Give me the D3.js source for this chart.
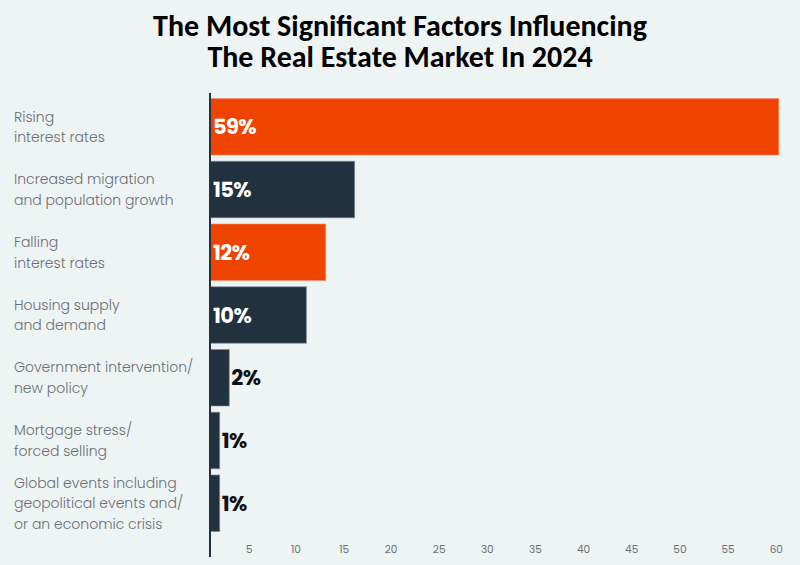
<!DOCTYPE html>
<html><head><meta charset="utf-8">
<script src="https://cdn.jsdelivr.net/npm/d3@7"></script>
<style>
html,body{margin:0;padding:0;background:#eef3f4;}
svg{display:block;}
</style></head>
<body>
<svg id="chart" width="800" height="565"></svg>
<script>
const titleLines = ["The Most Significant Factors Influencing", "The Real Estate Market In 2024"];
const categories = [
  ["Rising", "interest rates"],
  ["Increased migration", "and population growth"],
  ["Falling", "interest rates"],
  ["Housing supply", "and demand"],
  ["Government intervention/", "new policy"],
  ["Mortgage stress/", "forced selling"],
  ["Global events including", "geopolitical events and/", "or an economic crisis"]
];
const values = [59, 15, 12, 10, 2, 1, 1];
const highlight = [true, false, true, false, false, false, false];
const tickValues = [5, 10, 15, 20, 25, 30, 35, 40, 45, 50, 55, 60];

const svg = d3.select("#chart");
const W = 800, H = 565;
svg.append("rect").attr("width", W).attr("height", H).attr("fill", "#eef3f4");

const x = d3.scaleLinear().domain([0, 60]).range([210, 788.4]);
const y = d3.scaleBand().domain(d3.range(values.length)).range([95.4, 534.6]).paddingInner(0.1).paddingOuter(0.05);

// title (one text element, two lines)
svg.append("text")
  .attr("text-anchor", "middle")
  .attr("font-family", "Carlito, 'Liberation Sans Narrow', 'Open Sans', sans-serif")
  .attr("font-weight", "bold").attr("font-size", 30).attr("fill", "#000")
  .selectAll("tspan").data(titleLines).join("tspan")
  .attr("x", 400).attr("y", (d, i) => 36 + i * 31)
  .text(d => d);

// bars
svg.append("g").selectAll("rect").data(values).join("rect")
  .attr("x", x(0)).attr("y", (d, i) => y(i))
  .attr("width", d => x(d) - x(0)).attr("height", y.bandwidth())
  .attr("fill", (d, i) => highlight[i] ? "#ef4400" : "#21313e")
  .attr("stroke", (d, i) => highlight[i] ? "#f6896a" : "#7c8890")
  .attr("stroke-width", 1).attr("stroke-opacity", 0.6);

// value labels
svg.append("g").selectAll("text").data(values).join("text")
  .attr("x", d => (x(d) - x(0) > 40) ? x(0) + 3 : x(d) + 2)
  .attr("y", (d, i) => y(i) + y.bandwidth() / 2 + 7.5)
  .attr("font-family", "Poppins, 'Open Sans', Lato, sans-serif")
  .attr("font-weight", 700).attr("font-size", 21).attr("letter-spacing", -0.6)
  .attr("fill", d => (x(d) - x(0) > 40) ? "#fff" : "#111")
  .text(d => d + "%");

// category labels
const cat = svg.append("g").selectAll("text").data(categories).join("text")
  .attr("font-family", "Poppins, 'Open Sans', Lato, sans-serif")
  .attr("font-weight", 300).attr("font-size", 14).attr("fill", "#6b6f73");
cat.each(function (lines, i) {
  const cy = y(i) + y.bandwidth() / 2;
  const lh = 20.5;
  const start = cy - (lines.length - 1) * lh / 2 + 5;
  d3.select(this).selectAll("tspan").data(lines).join("tspan")
    .attr("x", 14).attr("y", (d, j) => start + j * lh).text(d => d);
});

// axis
const axis = d3.axisBottom(x).tickValues(tickValues).tickSize(0).tickPadding(0);
const ag = svg.append("g").attr("transform", "translate(0,546)").call(axis);
ag.select(".domain").remove();
ag.selectAll("text")
  .attr("text-anchor", "end").attr("dx", -6).attr("dy", "0.71em")
  .attr("font-family", "Poppins, 'Open Sans', Lato, sans-serif")
  .attr("font-size", 10.5).attr("fill", "#6b6f73");

svg.append("line").attr("x1", 210).attr("x2", 210).attr("y1", 93).attr("y2", 557)
  .attr("stroke", "#21313e").attr("stroke-width", 2);
</script>
</body></html>
